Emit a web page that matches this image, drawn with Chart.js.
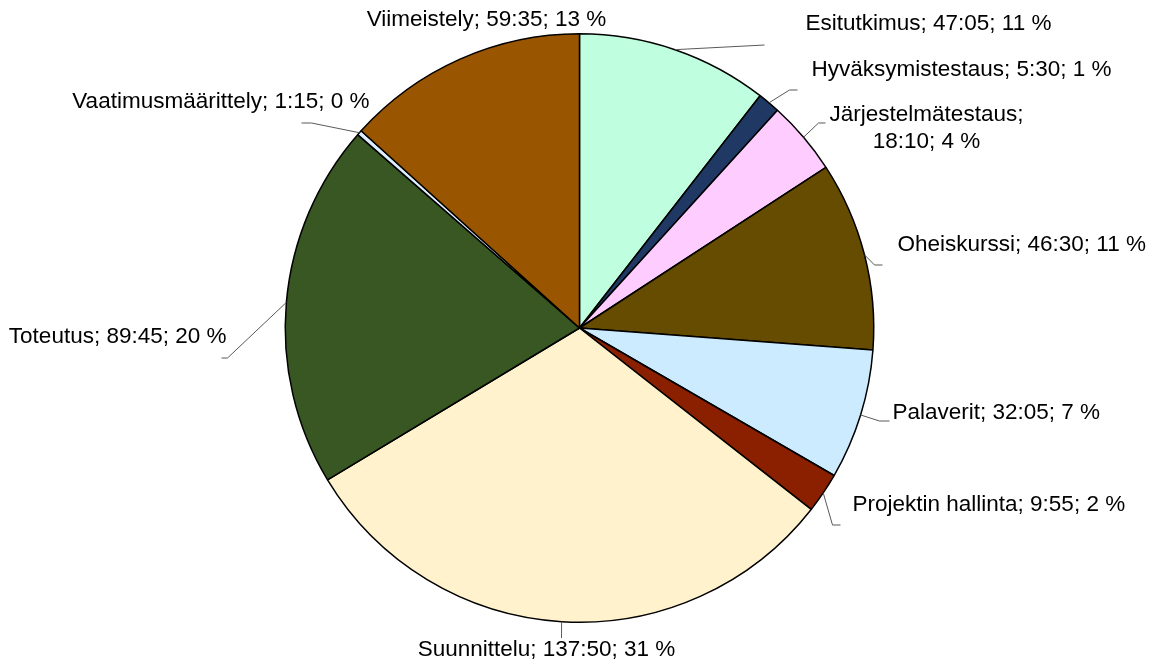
<!DOCTYPE html>
<html>
<head>
<meta charset="utf-8">
<script src="https://cdn.jsdelivr.net/npm/chart.js@4.4.1/dist/chart.umd.min.js"></script>
<style>
  html, body { margin: 0; padding: 0; background: #fff; }
  canvas { display: block; }
</style>
</head>
<body>
<canvas id="pie" width="1157" height="661"></canvas>
<script>
// --- Data ---
const categories = ['Esitutkimus', 'Hyväksymistestaus', 'Järjestelmätestaus', 'Oheiskurssi', 'Palaverit',
    'Projektin hallinta', 'Suunnittelu', 'Toteutus', 'Vaatimusmäärittely', 'Viimeistely'];
const times = ['47:05', '5:30', '18:10', '46:30', '32:05', '9:55', '137:50', '89:45', '1:15', '59:35'];
const percents = ['11 %', '1 %', '4 %', '11 %', '7 %', '2 %', '31 %', '20 %', '0 %', '13 %'];
const colors = ['#BFFFE0', '#1F3864', '#FFCCFF', '#664C00', '#CCEBFF', '#8B2000', '#FFF2CC', '#385723', '#DDEEFF', '#995500'];

// hh:mm -> minutes
const minutes = times.map(t => {
    const [h, m] = t.split(':').map(Number);
    return h + m / 60;
});

// --- Label placement, relative to the pie centre (px) ---
// elbow/end: leader line points, text: anchor, align: text alignment
const labelLayout = [
    { end: [185, -283], text: [226, -304], align: 'left' },
    { elbow: [210, -238], end: [218, -238], text: [232, -258], align: 'left' },
    { elbow: [239, -205], end: [246, -205], text: [347, -213], align: 'center', split: true },
    { elbow: [295, -63], end: [303, -63], text: [318, -83], align: 'left' },
    { elbow: [300, 93], end: [310, 93], text: [313, 85], align: 'left' },
    { elbow: [253, 197], end: [261, 197], text: [273, 177], align: 'left' },
    { end: [-18, 310], text: [-33, 322], align: 'center' },
    { elbow: [-352, 30], end: [-358, 30], text: [-353, 9], align: 'right' },
    { elbow: [-268, -205], end: [-278, -205], text: [-210, -226], align: 'right' },
    { text: [-93, -308], align: 'center' }
];

const pieLabels = {
    id: 'pieLabels',
    afterDatasetsDraw(chart) {
        const ctx = chart.ctx;
        const arcs = chart.getDatasetMeta(0).data;
        ctx.save();
        ctx.font = '22.5px "Liberation Sans", Arial, sans-serif';
        ctx.textBaseline = 'middle';
        arcs.forEach((arc, i) => {
            const p = arc.getProps(['x', 'y', 'startAngle', 'endAngle', 'outerRadius'], true);
            const lay = labelLayout[i];
            const mid = (p.startAngle + p.endAngle) / 2;

            // leader line
            if (lay.end) {
                ctx.strokeStyle = '#595959';
                ctx.lineWidth = 1;
                ctx.beginPath();
                ctx.moveTo(p.x + Math.cos(mid) * p.outerRadius, p.y + Math.sin(mid) * p.outerRadius);
                if (lay.elbow) ctx.lineTo(p.x + lay.elbow[0], p.y + lay.elbow[1]);
                ctx.lineTo(p.x + lay.end[0], p.y + lay.end[1]);
                ctx.stroke();
            }

            // text
            ctx.fillStyle = '#000';
            ctx.textAlign = lay.align;
            const tx = p.x + lay.text[0];
            const ty = p.y + lay.text[1];
            if (lay.split) {
                ctx.fillText(categories[i] + ';', tx, ty);
                ctx.fillText(times[i] + '; ' + percents[i], tx, ty + 27);
            } else {
                ctx.fillText(categories[i] + '; ' + times[i] + '; ' + percents[i], tx, ty);
            }
        });
        ctx.restore();
    }
};

new Chart(document.getElementById('pie'), {
    type: 'pie',
    data: {
        labels: categories,
        datasets: [{
            data: minutes,
            backgroundColor: colors,
            borderColor: '#000',
            borderWidth: 1.5
        }]
    },
    options: {
        responsive: false,
        animation: false,
        layout: { padding: { top: 33, bottom: 38, left: 2, right: 0 } },
        plugins: {
            legend: { display: false },
            tooltip: { enabled: false }
        }
    },
    plugins: [pieLabels]
});
</script>
</body>
</html>
